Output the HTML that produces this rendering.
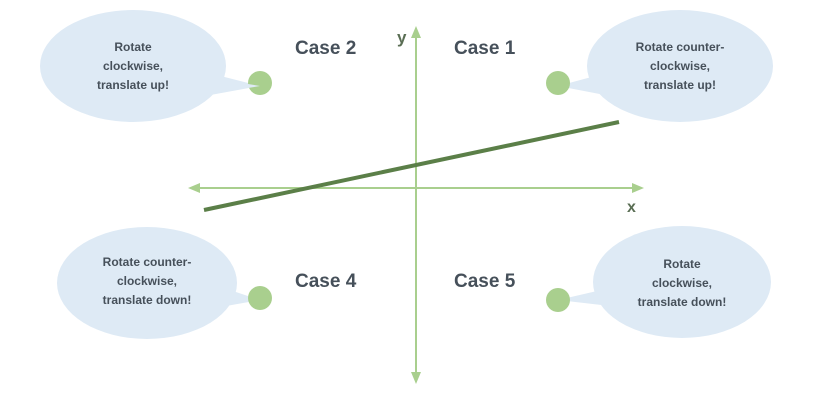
<!DOCTYPE html>
<html><head><meta charset="utf-8"><style>
body{margin:0;background:#fff}
svg{display:block;font-family:"Liberation Sans",sans-serif}
.bt{font-size:12px;font-weight:bold;fill:#46505a;text-anchor:middle}
.cs{font-size:19px;font-weight:bold;fill:#46505a}
</style></head><body>
<svg width="820" height="406" viewBox="0 0 820 406">
<defs><marker id="ah" markerWidth="6" markerHeight="6" refX="3" refY="3" orient="auto" markerUnits="strokeWidth"><path d="M0,0.5 L6,3 L0,5.5 z" fill="#a9cf8e"/></marker></defs>
<g>
<line x1="416" y1="188" x2="638" y2="188" stroke="#a9cf8e" stroke-width="2" marker-end="url(#ah)"/>
<line x1="416" y1="188" x2="194" y2="188" stroke="#a9cf8e" stroke-width="2" marker-end="url(#ah)"/>
</g>
<g>
<line x1="416" y1="188" x2="416" y2="32" stroke="#a9cf8e" stroke-width="2" marker-end="url(#ah)"/>
<line x1="416" y1="188" x2="416" y2="378" stroke="#a9cf8e" stroke-width="2" marker-end="url(#ah)"/>
</g>
<text x="397" y="43" class="cs" style="font-size:17px;fill:#5a6e54">y</text>
<text x="627" y="212" class="cs" style="font-size:16px;fill:#5a6e54">x</text>
<line x1="204" y1="210" x2="619" y2="122" stroke="#5b7f48" stroke-width="4"/>
<text x="295" y="54" class="cs">Case 2</text>
<text x="454" y="54" class="cs">Case 1</text>
<text x="295" y="287" class="cs">Case 4</text>
<text x="454" y="287" class="cs">Case 5</text>
<g>
<ellipse cx="133" cy="66" rx="93" ry="56" fill="#deeaf5"/>
<polygon points="205,72 260,86 205,96" fill="#deeaf5"/>
<circle cx="260" cy="83" r="12" fill="#a9cf8e"/>
<polygon points="260,86 248,84 248,88" fill="#deeaf5"/>
<text class="bt" x="133" y="51">Rotate</text><text class="bt" x="133" y="70">clockwise,</text><text class="bt" x="133" y="89">translate up!</text>
</g>
<g>
<ellipse cx="680" cy="66" rx="93" ry="56" fill="#deeaf5"/>
<polygon points="610,72 558,86 610,96" fill="#deeaf5"/>
<circle cx="558" cy="83" r="12" fill="#a9cf8e"/>
<text class="bt" x="680" y="51">Rotate counter-</text><text class="bt" x="680" y="70">clockwise,</text><text class="bt" x="680" y="89">translate up!</text>
</g>
<g>
<ellipse cx="147" cy="283" rx="90" ry="56" fill="#deeaf5"/>
<polygon points="215,285 260,300 215,308" fill="#deeaf5"/>
<circle cx="260" cy="298" r="12" fill="#a9cf8e"/>
<text class="bt" x="147" y="266">Rotate counter-</text><text class="bt" x="147" y="285">clockwise,</text><text class="bt" x="147" y="304">translate down!</text>
</g>
<g>
<ellipse cx="682" cy="282" rx="89" ry="56" fill="#deeaf5"/>
<polygon points="610,288 558,300 610,306" fill="#deeaf5"/>
<circle cx="558" cy="300" r="12" fill="#a9cf8e"/>
<text class="bt" x="682" y="268">Rotate</text><text class="bt" x="682" y="287">clockwise,</text><text class="bt" x="682" y="306">translate down!</text>
</g>
</svg>
</body></html>
